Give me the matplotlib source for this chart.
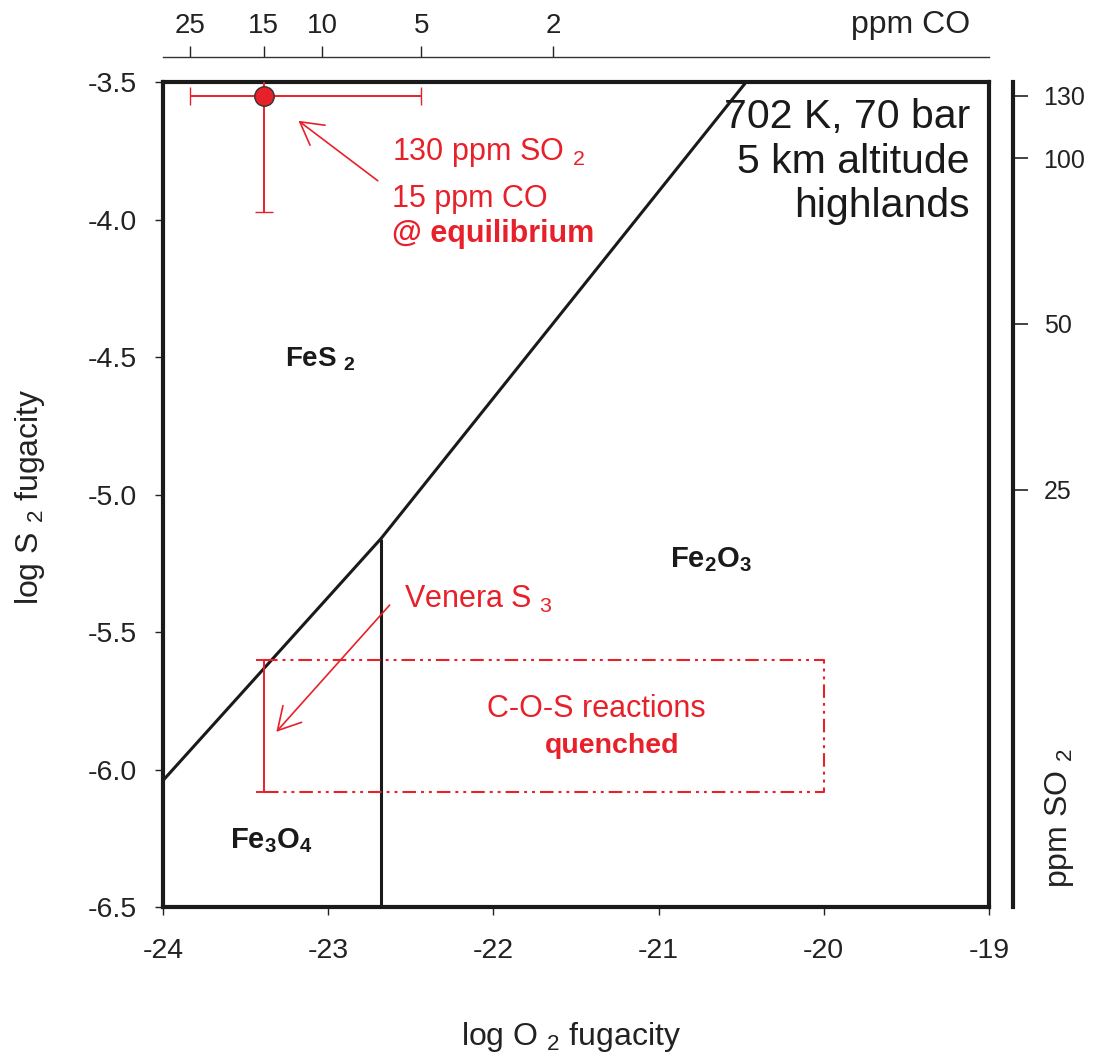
import numpy as np
import matplotlib
matplotlib.use("Agg")
import matplotlib.pyplot as plt

plt.rcParams['font.family'] = ['Liberation Sans', 'DejaVu Sans']
plt.rcParams['mathtext.fontset'] = 'custom'
plt.rcParams['mathtext.rm'] = 'Liberation Sans'
plt.rcParams['mathtext.it'] = 'Liberation Sans:italic'
plt.rcParams['mathtext.bf'] = 'Liberation Sans:bold'
plt.rcParams['axes.unicode_minus'] = False

# ---------------- data ----------------
# phase boundaries (log fO2, log fS2)
boundary_x = [-24.0, -22.68, -20.47]
boundary_y = [-6.04, -5.16, -3.5]
magnetite_x = [-22.68, -22.68]
magnetite_y = [-6.5, -5.16]

# equilibrium point: 15 ppm CO, 130 ppm SO2
eq_x = -23.39
eq_y = -3.55
co_ref_ppm = 15
so2_ref_ppm = 130
co_range_ppm = [25, 5]       # horizontal error range
so2_range_ppm = [80, 140]    # vertical error range

# Venera S3 bar and quenched region
venera_x = -23.39
venera_y = [-5.60, -6.08]
quench_x_right = -20.0

# axes ticks
x_ticks = [-24, -23, -22, -21, -20, -19]
y_ticks = [-6.5, -6.0, -5.5, -5.0, -4.5, -4.0, -3.5]
co_ticks = [25, 15, 10, 5, 2]
so2_ticks = [130, 100, 50, 25]

RED = '#E8202A'


def x_to_co(x):
    return np.log10(co_ref_ppm) - (np.asarray(x, dtype=float) - eq_x) / 2.0


def co_to_x(l):
    return eq_x - 2.0 * (np.asarray(l, dtype=float) - np.log10(co_ref_ppm))


def y_to_so2(y):
    return np.log10(so2_ref_ppm) + (np.asarray(y, dtype=float) - eq_y) / 2.0


def so2_to_y(l):
    return eq_y + 2.0 * (np.asarray(l, dtype=float) - np.log10(so2_ref_ppm))


W, H = 1095, 1058
fig = plt.figure(figsize=(W / 100, H / 100), dpi=100)
ax = fig.add_axes([163 / W, 1 - 907 / H, (989 - 163) / W, (907 - 82) / H])
ax.set_xlim(-24, -19)
ax.set_ylim(-6.5, -3.5)

for s in ax.spines.values():
    s.set_linewidth(3.0)
    s.set_color('#1a1a1a')

ax.set_xticks(x_ticks)
ax.set_xticklabels([f"{v:d}" for v in x_ticks])
ax.set_yticks(y_ticks)
ax.set_yticklabels([f"{v:.1f}" for v in y_ticks])
ax.tick_params(axis='x', direction='out', length=6, width=1, labelsize=20.5,
               pad=16, colors='#222222')
ax.tick_params(axis='y', direction='out', length=6, width=1, labelsize=20.5,
               pad=13, colors='#222222')

# phase boundaries
ax.plot(boundary_x, boundary_y, color='#1a1a1a', lw=2.2, solid_capstyle='butt')
ax.plot(magnetite_x, magnetite_y, color='#1a1a1a', lw=2.2, solid_capstyle='butt')

# equilibrium point with error bars
x_lo = co_to_x(np.log10(co_range_ppm[0]))
x_hi = co_to_x(np.log10(co_range_ppm[1]))
y_lo = so2_to_y(np.log10(so2_range_ppm[0]))
y_hi = so2_to_y(np.log10(so2_range_ppm[1]))
ax.errorbar([eq_x], [eq_y],
            xerr=[[eq_x - x_lo], [x_hi - eq_x]],
            yerr=[[eq_y - y_lo], [y_hi - eq_y]],
            fmt='o', ms=14, mfc=RED, mec='#333333', mew=1.0,
            ecolor=RED, elinewidth=1.4, capsize=6.5, capthick=1.4, zorder=3)

# Venera S3 bar
v_mid = (venera_y[0] + venera_y[1]) / 2
v_half = abs(venera_y[0] - venera_y[1]) / 2
ax.errorbar([venera_x], [v_mid], yerr=[v_half], fmt='none', ecolor=RED,
            elinewidth=1.4, capsize=6, capthick=1.4, zorder=3)

# quenched region (dash-dot-dot)
ax.plot([venera_x, quench_x_right, quench_x_right, venera_x],
        [venera_y[0], venera_y[0], venera_y[1], venera_y[1]],
        color=RED, lw=1.5, linestyle=(0, (6.5, 2.4, 1.4, 2.4, 1.4, 2.4)))

# arrows
ax.annotate('', xy=(-23.18, -3.641), xytext=(-22.70, -3.859),
            arrowprops=dict(arrowstyle='->,head_length=0.8,head_width=0.45',
                            color=RED, lw=1.2, mutation_scale=20,
                            shrinkA=0, shrinkB=0))
ax.annotate('', xy=(-23.314, -5.863), xytext=(-22.628, -5.402),
            arrowprops=dict(arrowstyle='->,head_length=0.8,head_width=0.45',
                            color=RED, lw=1.2, mutation_scale=20,
                            shrinkA=0, shrinkB=0))

# texts
ax.text(-19.115, -3.667, '702 K, 70 bar', ha='right', va='baseline', size=29.5,
        color='#1a1a1a')
ax.text(-19.115, -3.831, '5 km altitude', ha='right', va='baseline', size=29.5,
        color='#1a1a1a')
ax.text(-19.115, -3.990, 'highlands', ha='right', va='baseline', size=29.5,
        color='#1a1a1a')

ax.text(-22.614, -3.784, r'130 ppm SO ${}_2$', ha='left', va='baseline',
        size=22, color=RED)
ax.text(-22.614, -3.955, '15 ppm CO', ha='left', va='baseline', size=22,
        color=RED)
ax.text(-22.614, -4.082, '@ equilibrium', ha='left', va='baseline', size=22,
        color=RED, fontweight='bold')

ax.text(-23.261, -4.536, r'$\mathbf{FeS\ _2}$', ha='left', va='baseline',
        size=20, color='#1a1a1a')
ax.text(-20.931, -5.264, r'$\mathbf{Fe_2O_3}$', ha='left', va='baseline',
        size=21, color='#1a1a1a')
ax.text(-23.594, -6.285, r'$\mathbf{Fe_3O_4}$', ha='left', va='baseline',
        size=21, color='#1a1a1a')

ax.text(-22.539, -5.413, r'Venera S ${}_3$', ha='left', va='baseline', size=22,
        color=RED)
ax.text(-21.379, -5.809, 'C-O-S reactions', ha='center', va='baseline',
        size=22, color=RED)
ax.text(-21.282, -5.94, 'quenched', ha='center', va='baseline', size=20.5,
        color=RED, fontweight='bold')

# top axis: ppm CO
secx = ax.secondary_xaxis((907 - 57) / 825, functions=(x_to_co, co_to_x))
secx.set_xticks(np.log10(co_ticks))
secx.set_xticklabels([str(v) for v in co_ticks])
secx.tick_params(axis='x', direction='out', length=8, width=1, labelsize=20,
                 pad=5, colors='#222222')
secx.spines['top'].set_linewidth(1.0)
secx.spines['top'].set_color('#333333')

# right axis: ppm SO2
secy = ax.secondary_yaxis((1013 - 163) / 826, functions=(y_to_so2, so2_to_y))
secy.set_yticks(np.log10(so2_ticks))
secy.set_yticklabels([str(v) for v in so2_ticks])
secy.tick_params(axis='y', direction='out', length=11, width=1.2, labelsize=18,
                 pad=11, colors='#222222')
secy.spines['right'].set_linewidth(3.0)
secy.spines['right'].set_color('#1a1a1a')

# axis labels
fig.text(571 / W, 1 - 1045 / H, r'log O ${}_2$ fugacity', ha='center',
         va='baseline', size=23, color='#222222')
fig.text(30 / W, 1 - 497 / H, r'log S ${}_2$ fugacity', ha='center',
         va='center', rotation=90, size=23, color='#222222')
fig.text(970 / W, 1 - 33 / H, 'ppm CO', ha='right', va='baseline', size=23,
         color='#222222')
fig.text(1060 / W, 1 - 818 / H, r'ppm SO ${}_2$', ha='center', va='center',
         rotation=90, size=23, color='#222222')

fig.savefig('out.png', dpi=100)
